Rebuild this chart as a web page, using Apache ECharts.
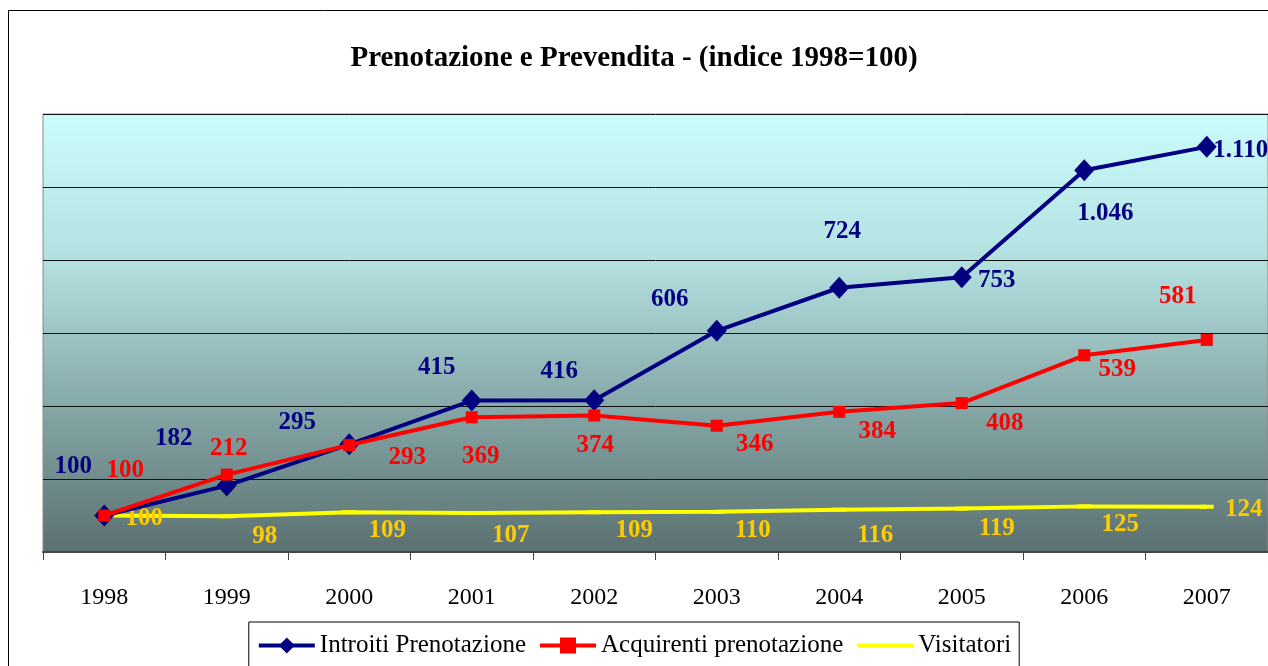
<!DOCTYPE html>
<html lang="it">
<head>
    <meta charset="UTF-8">
    <title>Prenotazione e Prevendita</title>
    <script src="https://cdn.jsdelivr.net/npm/echarts@6/dist/echarts.min.js"></script>
    <style>
        html, body { margin: 0; padding: 0; background: #fff; }
    </style>
</head>
<body>
<div id="chart" style="width: 1268px;height: 666px;"></div>
<script>
    // dati (indice 1998 = 100)
    var anni = ['1998', '1999', '2000', '2001', '2002', '2003', '2004', '2005', '2006', '2007'];
    var introiti = [100, 182, 295, 415, 416, 606, 724, 753, 1046, 1110];
    var acquirenti = [100, 212, 293, 369, 374, 346, 384, 408, 539, 581];
    var visitatori = [100, 98, 109, 107, 109, 110, 116, 119, 125, 124];

    // spostamento etichette rispetto al punto (come nel grafico Excel)
    var offIntroiti = [[-31, -49], [-53, -47], [-52, -22], [-35, -33], [-35, -29], [-47, -31], [3, -56], [35, 3], [21, 43], [34, 4]];
    var offAcquirenti = [[21, -45], [2, -26], [58, 12], [9, 39], [1, 30], [38, 19], [38, 20], [43, 20], [33, 14], [-29, -43]];
    var offVisitatori = [[40, 3], [38, 20], [38, 18], [39, 23], [40, 18], [36, 19], [36, 26], [35, 20], [36, 18], [37, 3]];

    var font = '"Liberation Serif", "Times New Roman", serif';

    function numIt(v) {
        return String(v).replace(/\B(?=(\d{3})+(?!\d))/g, '.');
    }

    function conEtichette(valori, offsets) {
        return valori.map(function (v, i) {
            return {value: v, label: {offset: offsets[i]}};
        });
    }

    function etichetta(colore) {
        return {
            show: true,
            position: 'inside',
            align: 'center',
            verticalAlign: 'middle',
            color: colore,
            fontFamily: font,
            fontWeight: 'bold',
            fontSize: 25,
            formatter: function (p) { return numIt(p.value); }
        };
    }

    var myChart = echarts.init(document.getElementById('chart'));
    var option = {
        animation: false,
        graphic: [{
            type: 'rect',
            shape: {x: 8.5, y: 10.5, width: 1300, height: 700},
            style: {fill: 'none', stroke: '#000', lineWidth: 1},
            silent: true,
            z: -10
        }],
        title: {
            text: 'Prenotazione e Prevendita - (indice 1998=100)',
            left: 'center',
            top: 44,
            padding: 0,
            textStyle: {
                color: '#000',
                fontFamily: font,
                fontWeight: 'bold',
                fontSize: 29
            }
        },
        legend: {
            left: 'center',
            top: 622,
            padding: [11, 8, 12, 8],
            borderColor: '#000',
            borderWidth: 1,
            itemWidth: 56,
            itemHeight: 20,
            itemGap: 12,
            lineStyle: {width: 4},
            textStyle: {color: '#000', fontFamily: font, fontSize: 25},
            data: [
                'Introiti Prenotazione',
                'Acquirenti prenotazione',
                {name: 'Visitatori', itemStyle: {opacity: 0}}
            ]
        },
        grid: {
            left: 43,
            top: 114,
            width: 1228,
            height: 438,
            show: true,
            borderColor: '#8a8a8a',
            borderWidth: 1,
            backgroundColor: {
                type: 'linear', x: 0, y: 0, x2: 0, y2: 1,
                colorStops: [
                    {offset: 0, color: '#cbfdfd'},
                    {offset: 0.35, color: '#b2dede'},
                    {offset: 0.65, color: '#88aaaa'},
                    {offset: 1, color: '#5b7070'}
                ]
            }
        },
        xAxis: {
            type: 'category',
            data: anni,
            boundaryGap: true,
            axisLine: {show: true, lineStyle: {color: '#444', width: 2}},
            axisTick: {show: true, length: 8, lineStyle: {color: '#444', width: 1}},
            axisLabel: {
                margin: 34,
                color: '#000',
                fontFamily: font,
                fontSize: 24
            }
        },
        yAxis: {
            type: 'value',
            min: 0,
            max: 1200,
            interval: 200,
            axisLine: {show: false},
            axisTick: {show: false},
            axisLabel: {show: false},
            splitLine: {lineStyle: {color: '#111', width: 1}}
        },
        series: [
            {
                name: 'Visitatori',
                type: 'line',
                data: conEtichette(visitatori, offVisitatori),
                symbol: 'rect',
                symbolSize: [14, 4],
                itemStyle: {color: '#ffff00'},
                lineStyle: {color: '#ffff00', width: 4},
                label: etichetta('#ffcc00'),
                z: 2
            },
            {
                name: 'Introiti Prenotazione',
                type: 'line',
                data: conEtichette(introiti, offIntroiti),
                symbol: 'diamond',
                symbolSize: [20, 22],
                itemStyle: {color: '#000080'},
                lineStyle: {color: '#000080', width: 4},
                label: etichetta('#000080'),
                z: 3
            },
            {
                name: 'Acquirenti prenotazione',
                type: 'line',
                data: conEtichette(acquirenti, offAcquirenti),
                symbol: 'rect',
                symbolSize: 12,
                itemStyle: {color: '#ff0000'},
                lineStyle: {color: '#ff0000', width: 4},
                label: etichetta('#ff0000'),
                z: 4
            }
        ]
    };
    myChart.setOption(option);
</script>
</body>
</html>
